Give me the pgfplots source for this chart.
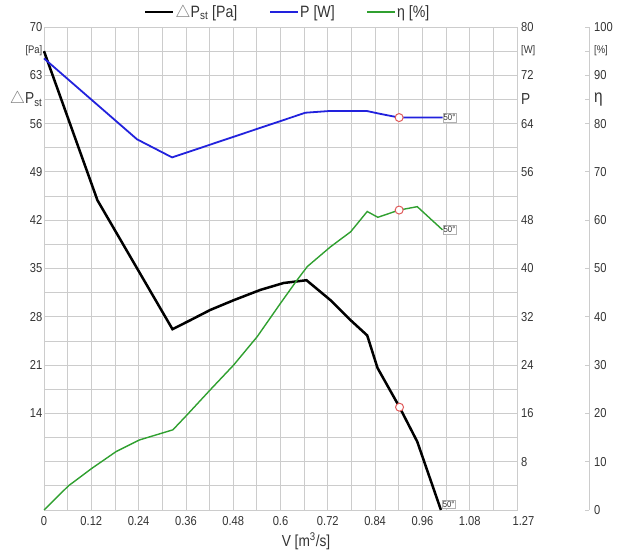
\documentclass[border=0pt]{standalone}
\usepackage{fontspec}
\setmainfont{Liberation Sans}[FakeStretch=0.86]
\newfontfamily\dejavu{DejaVu Sans}
\usepackage{pgfplots}
\pgfplotsset{compat=1.18}
\definecolor{gridgray}{HTML}{CCCCCC}
\definecolor{tickgray}{HTML}{333333}
\definecolor{myblue}{HTML}{2222DD}
\definecolor{mygreen}{HTML}{30A030}
\definecolor{circred}{HTML}{E05A5A}
\newcommand{\tri}{{\color{gray}$\triangle$}}
\tikzset{tagbox/.style={draw=gray!60, fill=white, inner sep=1bp, font=\fontsize{9}{9}\selectfont, text=tickgray}}
\pgfplotsset{
  base/.style={scale only axis, width=473bp, height=483bp, at={(0,0)}, anchor=south west,
    xmin=0, xmax=1.2, clip=false,
    tick label style={font=\fontsize{13}{13}\selectfont, text=tickgray},
    /pgf/number format/assume math mode=true},
  redcirc/.style={only marks, mark=*, mark size=4bp, mark options={draw=circred, fill=white, line width=1bp}},
}
\begin{document}
\begin{tikzpicture}
\path[use as bounding box] (-44bp,-46bp) rectangle (573bp,510bp);
% ---- main axis: static pressure
\begin{axis}[base, ymin=0, ymax=70,
  axis line style={gridgray},
  xtick={0,0.12,0.24,0.36,0.48,0.6,0.72,0.84,0.96,1.08,1.2},
  xticklabels={0,0.12,0.24,0.36,0.48,0.6,0.72,0.84,0.96,1.08,{\hspace{13bp}1.27}},
  minor xtick={0.06,0.18,0.3,0.42,0.54,0.66,0.78,0.9,1.02,1.14},
  ytick={14,21,28,35,42,49,56,59.5,63,66.5,70},
  yticklabels={14,21,28,35,42,49,56,{\fontsize{16}{16}\selectfont{\fontsize{19}{19}\selectfont\tri}P\textsubscript{st}},63,{\fontsize{11}{11}\selectfont [Pa]},70},
  minor ytick={3.5,7,10.5,14,17.5,21,24.5,28,31.5,35,38.5,42,45.5,49,52.5,56,59.5,63,66.5},
  grid=both, major grid style={gridgray, line width=0.8bp}, minor grid style={gridgray, line width=0.8bp},
  major tick length=0pt, minor tick length=0pt,
  yticklabel style={inner sep=0pt, xshift=-1.5bp},
  xticklabel style={inner sep=0pt, yshift=-6bp},
  xlabel={V [m\textsuperscript{3}/s]},
  xlabel style={font=\fontsize{16}{16}\selectfont, text=tickgray, at={(axis description cs:0.554,-0.0642)}, anchor=center},
  legend columns=3,
  legend style={draw=none, fill=none, at={(0.514,1.031)}, anchor=center,
    font=\fontsize{16.5}{16.5}\selectfont, text=tickgray,
    /tikz/every even column/.append style={column sep=31bp},
    nodes={inner sep=1bp}},
  legend image code/.code={\draw[#1] (0bp,0bp) -- (28bp,0bp);},
]
\addlegendimage{black, line width=2.5bp}
\addlegendimage{myblue, line width=1.8bp}
\addlegendimage{mygreen, line width=1.4bp}
\legend{{\tri P\textsubscript{st} [Pa]},{P [W]},{η [\%]}}
\addplot[black, line width=2.5bp, forget plot] coordinates {
(0,66.5) (0.1355,44.9) (0.326,26.2) (0.371,27.5) (0.422,29.0) (0.481,30.4)
(0.549,31.9) (0.608,32.9) (0.666,33.3) (0.727,30.4) (0.778,27.5) (0.820,25.3)
(0.846,20.6) (0.902,14.9) (0.947,9.9) (1.007,0)};
\addplot[redcirc, forget plot] coordinates {(0.902,14.9)};
\node[tagbox, anchor=south west] at (axis cs:1.009,0.2) {50°};
\end{axis}
% ---- power axis
\begin{axis}[base, ymin=0, ymax=80, hide x axis, axis y line*=right,
  axis line style={draw=none},
  ytick={8,16,24,32,40,48,56,64,68,72,76,80},
  yticklabels={8,16,24,32,40,48,56,64,{\fontsize{16}{16}\selectfont P},72,{\fontsize{11}{11}\selectfont [W]},80},
  major tick length=0pt,
  yticklabel style={anchor=west, inner sep=0pt, xshift=4bp},
]
\addplot[myblue, line width=1.8bp] coordinates {
(0,74.8) (0.236,61.4) (0.325,58.4) (0.663,65.8) (0.727,66.1) (0.818,66.1)
(0.854,65.6) (0.901,65.0) (1.011,65.0)};
\addplot[redcirc] coordinates {(0.901,65.0)};
\node[tagbox, anchor=west] at (axis cs:1.011,65.0) {50°};
\end{axis}
% ---- efficiency curve
\begin{axis}[base, ymin=0, ymax=100, hide axis]
\addplot[mygreen, line width=1.4bp] coordinates {
(0,0) (0.062,5.0) (0.121,8.6) (0.183,12.1) (0.242,14.5) (0.327,16.6) (0.363,19.7)
(0.422,24.9) (0.481,30.0) (0.541,35.9) (0.600,42.8) (0.642,47.6) (0.668,50.4)
(0.727,54.5) (0.778,57.6) (0.820,61.8) (0.847,60.6) (0.901,62.1) (0.947,62.8) (1.011,58.0)};
\addplot[redcirc] coordinates {(0.901,62.1)};
\node[tagbox, anchor=west] at (axis cs:1.011,58.0) {50°};
\end{axis}
% ---- efficiency scale
\begin{axis}[scale only axis, width=10bp, height=483bp, at={(545bp,0)}, anchor=south east,
  xmin=0, xmax=1, ymin=0, ymax=100, hide x axis, axis y line*=right,
  axis line style={gridgray, line width=0.8bp},
  ytick={0,10,20,30,40,50,60,70,80,85,90,95,100},
  yticklabels={0,10,20,30,40,50,60,70,80,{\fontsize{18}{18}\selectfont η},90,{\fontsize{11}{11}\selectfont [\%]},100},
  tick align=inside, major tick length=4bp,
  major tick style={gridgray, line width=0.8bp},
  tick label style={font=\fontsize{13}{13}\selectfont, text=tickgray},
  yticklabel style={anchor=west, inner sep=0pt, xshift=5bp},
  /pgf/number format/assume math mode=true,
]
\addplot[draw=none] coordinates {(0,0)};
\end{axis}
\end{tikzpicture}
\end{document}
